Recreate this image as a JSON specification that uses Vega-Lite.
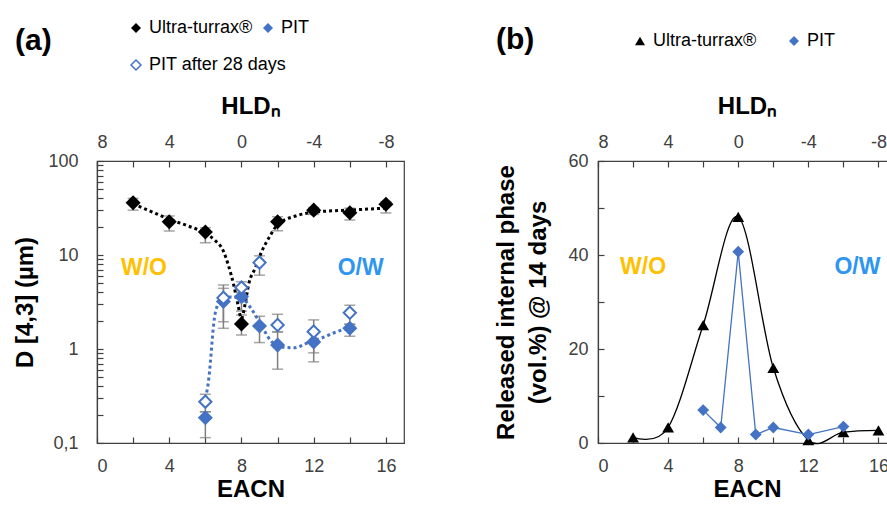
{
  "$schema": "https://vega.github.io/schema/vega-lite/v6.json",
  "background": "white",
  "padding": {"left": 13, "top": 18, "right": 0, "bottom": 0},
  "spacing": 194,
  "bounds": "flush",
  "resolve": {
    "scale": {"color": "independent", "fill": "independent", "stroke": "independent", "shape": "independent"},
    "legend": {"color": "independent", "fill": "independent", "stroke": "independent", "shape": "independent"}
  },
  "config": {
    "font": "Liberation Sans",
    "view": {"stroke": "#404040", "strokeWidth": 1.2},
    "axis": {"grid": false, "domainColor": "#404040", "domainWidth": 1.2, "tickColor": "#404040", "tickWidth": 1.2, "labelColor": "#404040", "labelFontSize": 18, "titleFontSize": 24, "titleFontWeight": "bold", "titleColor": "#000", "tickSize": -6},
    "legend": {"labelFontSize": 18, "labelColor": "#000", "symbolSize": 100, "title": null},
    "title": {"color": "#000"}
  },
  "datasets": {
    "a_pts": [
      {"eacn": 2, "d": 36, "lo": 30, "hi": 40, "series": "Ultra-turrax®"},
      {"eacn": 4, "d": 22.6, "lo": 18, "hi": 26, "series": "Ultra-turrax®"},
      {"eacn": 6, "d": 17.6, "lo": 13.5, "hi": 19.5, "series": "Ultra-turrax®"},
      {"eacn": 8, "d": 1.85, "lo": 1.41, "hi": 2.3, "series": "Ultra-turrax®"},
      {"eacn": 10, "d": 22.6, "lo": 18.1, "hi": 25.5, "series": "Ultra-turrax®"},
      {"eacn": 12, "d": 30, "lo": 27, "hi": 32, "series": "Ultra-turrax®"},
      {"eacn": 14, "d": 28.2, "lo": 23.5, "hi": 31.5, "series": "Ultra-turrax®"},
      {"eacn": 16, "d": 34.6, "lo": 28, "hi": 37, "series": "Ultra-turrax®"},
      {"eacn": 6, "d": 0.186, "lo": 0.114, "hi": 0.215, "series": "PIT"},
      {"eacn": 7, "d": 3.2, "lo": 1.66, "hi": 4.42, "series": "PIT"},
      {"eacn": 8, "d": 3.6, "lo": 2.53, "hi": 3.97, "series": "PIT"},
      {"eacn": 9, "d": 1.76, "lo": 1.17, "hi": 2.23, "series": "PIT"},
      {"eacn": 10, "d": 1.1, "lo": 0.61, "hi": 1.52, "series": "PIT"},
      {"eacn": 12, "d": 1.19, "lo": 0.73, "hi": 1.6, "series": "PIT"},
      {"eacn": 14, "d": 1.66, "lo": 1.37, "hi": 1.83, "series": "PIT"},
      {"eacn": 6, "d": 0.275, "lo": 0.215, "hi": 0.33, "series": "PIT after 28 days"},
      {"eacn": 7, "d": 3.5, "lo": 1.95, "hi": 4.8, "series": "PIT after 28 days"},
      {"eacn": 8, "d": 4.5, "lo": 3.18, "hi": 5.2, "series": "PIT after 28 days"},
      {"eacn": 9, "d": 8.3, "lo": 6.1, "hi": 9.8, "series": "PIT after 28 days"},
      {"eacn": 10, "d": 1.8, "lo": 1.52, "hi": 2.34, "series": "PIT after 28 days"},
      {"eacn": 12, "d": 1.53, "lo": 0.91, "hi": 2.04, "series": "PIT after 28 days"},
      {"eacn": 14, "d": 2.43, "lo": 1.83, "hi": 2.92, "series": "PIT after 28 days"}
    ],
    "a_fit": [
      {"eacn": 2, "d": 35, "series": "U"},
      {"eacn": 3, "d": 29, "series": "U"},
      {"eacn": 4, "d": 24, "series": "U"},
      {"eacn": 5, "d": 20.5, "series": "U"},
      {"eacn": 6, "d": 17, "series": "U"},
      {"eacn": 6.5, "d": 14.5, "series": "U"},
      {"eacn": 7, "d": 11, "series": "U"},
      {"eacn": 7.3, "d": 7.5, "series": "U"},
      {"eacn": 7.56, "d": 4.9, "series": "U"},
      {"eacn": 7.8, "d": 3, "series": "U"},
      {"eacn": 8, "d": 2.1, "series": "U"},
      {"eacn": 8.2, "d": 3, "series": "U"},
      {"eacn": 8.4, "d": 4.9, "series": "U"},
      {"eacn": 8.77, "d": 7.3, "series": "U"},
      {"eacn": 9.13, "d": 11, "series": "U"},
      {"eacn": 9.5, "d": 15, "series": "U"},
      {"eacn": 10, "d": 21, "series": "U"},
      {"eacn": 11, "d": 26, "series": "U"},
      {"eacn": 12, "d": 28.5, "series": "U"},
      {"eacn": 13, "d": 29.5, "series": "U"},
      {"eacn": 14, "d": 30, "series": "U"},
      {"eacn": 15, "d": 30.8, "series": "U"},
      {"eacn": 16, "d": 31.5, "series": "U"},
      {"eacn": 6, "d": 0.3, "series": "P"},
      {"eacn": 6.2, "d": 0.5, "series": "P"},
      {"eacn": 6.33, "d": 0.95, "series": "P"},
      {"eacn": 6.44, "d": 1.69, "series": "P"},
      {"eacn": 6.57, "d": 2.53, "series": "P"},
      {"eacn": 6.85, "d": 3.24, "series": "P"},
      {"eacn": 7.4, "d": 3.57, "series": "P"},
      {"eacn": 8, "d": 3.5, "series": "P"},
      {"eacn": 8.5, "d": 2.75, "series": "P"},
      {"eacn": 9.07, "d": 1.83, "series": "P"},
      {"eacn": 9.63, "d": 1.22, "series": "P"},
      {"eacn": 10.2, "d": 1.05, "series": "P"},
      {"eacn": 10.9, "d": 1.03, "series": "P"},
      {"eacn": 11.7, "d": 1.17, "series": "P"},
      {"eacn": 12.4, "d": 1.3, "series": "P"},
      {"eacn": 13.1, "d": 1.48, "series": "P"},
      {"eacn": 14, "d": 1.7, "series": "P"}
    ],
    "a_txt": [
      {"eacn": 2.6, "d": 7.3, "label": "W/O"},
      {"eacn": 14.6, "d": 7.3, "label": "O/W"}
    ],
    "b_pts": [
      {"eacn": 2, "v": 1.2, "series": "Ultra-turrax®"},
      {"eacn": 4, "v": 3.3, "series": "Ultra-turrax®"},
      {"eacn": 6, "v": 25.1, "series": "Ultra-turrax®"},
      {"eacn": 8, "v": 48.1, "series": "Ultra-turrax®"},
      {"eacn": 10, "v": 16, "series": "Ultra-turrax®"},
      {"eacn": 12, "v": 0.6, "series": "Ultra-turrax®"},
      {"eacn": 14, "v": 2.3, "series": "Ultra-turrax®"},
      {"eacn": 16, "v": 2.7, "series": "Ultra-turrax®"},
      {"eacn": 6, "v": 7, "series": "PIT"},
      {"eacn": 7, "v": 3.3, "series": "PIT"},
      {"eacn": 8, "v": 40.7, "series": "PIT"},
      {"eacn": 9, "v": 1.8, "series": "PIT"},
      {"eacn": 10, "v": 3.3, "series": "PIT"},
      {"eacn": 12, "v": 1.8, "series": "PIT"},
      {"eacn": 14, "v": 3.5, "series": "PIT"}
    ],
    "b_txt": [
      {"eacn": 2.57, "v": 37.4, "label": "W/O"},
      {"eacn": 14.8, "v": 37.4, "label": "O/W"}
    ]
  },
  "hconcat": [
    {
      "width": 307,
      "height": 282,
      "title": {"text": "(a)", "anchor": "start", "frame": "group", "fontSize": 30, "fontWeight": "bold", "dx": -82, "offset": 0, "dy": 37},
      "resolve": {"axis": {"x": "independent"}},
      "layer": [
        {
          "data": {"name": "a_pts"},
          "mark": {"type": "errorbar", "ticks": {"size": 11}, "color": "#7f7f7f", "thickness": 1.5},
          "encoding": {
            "x": {"field": "eacn", "type": "quantitative", "scale": {"domain": [0, 17], "nice": false},
              "axis": {"orient": "bottom", "values": [0, 2, 4, 6, 8, 10, 12, 14, 16], "labelExpr": "datum.value % 4 == 0 ? datum.label : ''", "title": "EACN", "labelPadding": 20, "titlePadding": 2}},
            "y": {"field": "lo", "type": "quantitative", "scale": {"type": "log", "domain": [0.1, 100], "nice": false},
              "axis": {"values": [0.1, 0.2, 0.3, 0.4, 0.5, 0.6, 0.7, 0.8, 0.9, 1, 2, 3, 4, 5, 6, 7, 8, 9, 10, 20, 30, 40, 50, 60, 70, 80, 90, 100],
                "labelExpr": "datum.value == 0.1 ? '0,1' : (datum.value == 1 || datum.value == 10 || datum.value == 100) ? '' + datum.value : ''",
                "title": "D [4,3] (µm)", "labelPadding": 25, "titlePadding": 10}},
            "y2": {"field": "hi"}
          }
        },
        {
          "data": {"name": "a_fit"},
          "transform": [{"filter": "datum.series == 'U'"}],
          "mark": {"type": "line", "interpolate": "monotone", "strokeDash": [3, 3], "strokeWidth": 3, "color": "#000"},
          "encoding": {
            "x": {"field": "eacn", "type": "quantitative", "axis": null},
            "y": {"field": "d", "type": "quantitative", "title": "D [4,3] (µm)"}
          }
        },
        {
          "data": {"name": "a_fit"},
          "transform": [{"filter": "datum.series == 'P'"}],
          "mark": {"type": "line", "interpolate": "monotone", "strokeDash": [3, 3], "strokeWidth": 3, "color": "#4472C4"},
          "encoding": {
            "x": {"field": "eacn", "type": "quantitative", "axis": null},
            "y": {"field": "d", "type": "quantitative", "title": "D [4,3] (µm)"}
          }
        },
        {
          "data": {"name": "a_pts"},
          "mark": {"type": "point", "shape": "diamond", "size": 150, "strokeWidth": 2, "opacity": 1},
          "encoding": {
            "x": {"field": "eacn", "type": "quantitative",
              "axis": {"orient": "top", "values": [0, 2, 4, 6, 8, 10, 12, 14, 16], "labelExpr": "datum.value % 4 == 0 ? '' + (8 - datum.value) : ''", "title": "HLDₙ", "labelPadding": 16, "titlePadding": 15}},
            "y": {"field": "d", "type": "quantitative", "title": "D [4,3] (µm)"},
            "fill": {"field": "series", "type": "nominal", "scale": {"domain": ["Ultra-turrax®", "PIT", "PIT after 28 days"], "range": ["#000000", "#4472C4", "#ffffff"]},
              "legend": {"orient": "none", "legendX": 30, "legendY": -142, "direction": "horizontal", "values": ["Ultra-turrax®", "PIT"], "columnPadding": 6, "symbolStrokeWidth": 0}},
            "stroke": {"field": "series", "type": "nominal", "scale": {"domain": ["PIT after 28 days", "Ultra-turrax®", "PIT"], "range": ["#4472C4", "#000000", "#4472C4"]},
              "legend": {"orient": "none", "legendX": 30, "legendY": -105, "direction": "horizontal", "values": ["PIT after 28 days"], "symbolStrokeWidth": 1.5, "symbolFillColor": "#ffffff"}}
          }
        },
        {
          "data": {"name": "a_txt"},
          "transform": [{"filter": "datum.label == 'W/O'"}],
          "mark": {"type": "text", "fontSize": 23, "fontWeight": "bold", "color": "#FFC000"},
          "encoding": {
            "x": {"field": "eacn", "type": "quantitative", "axis": null},
            "y": {"field": "d", "type": "quantitative", "title": "D [4,3] (µm)"},
            "text": {"field": "label"}
          }
        },
        {
          "data": {"name": "a_txt"},
          "transform": [{"filter": "datum.label == 'O/W'"}],
          "mark": {"type": "text", "fontSize": 23, "fontWeight": "bold", "color": "#2E95F0"},
          "encoding": {
            "x": {"field": "eacn", "type": "quantitative", "axis": null},
            "y": {"field": "d", "type": "quantitative", "title": "D [4,3] (µm)"},
            "text": {"field": "label"}
          }
        }
      ]
    },
    {
      "width": 298,
      "height": 282,
      "title": {"text": "(b)", "anchor": "start", "frame": "group", "fontSize": 30, "fontWeight": "bold", "dx": -102, "offset": 0, "dy": 23},
      "resolve": {"axis": {"x": "independent"}},
      "layer": [
        {
          "data": {"name": "b_pts"},
          "transform": [{"filter": "datum.series == 'Ultra-turrax®'"}],
          "mark": {"type": "line", "interpolate": "cardinal", "strokeWidth": 1.3, "color": "#000"},
          "encoding": {
            "x": {"field": "eacn", "type": "quantitative", "scale": {"domain": [0, 17], "nice": false},
              "axis": {"orient": "bottom", "values": [0, 2, 4, 6, 8, 10, 12, 14, 16], "labelExpr": "datum.value % 4 == 0 ? datum.label : ''", "title": "EACN", "labelPadding": 20, "titlePadding": 2}},
            "y": {"field": "v", "type": "quantitative", "scale": {"domain": [0, 60], "nice": false},
              "axis": {"values": [0, 5, 10, 15, 20, 25, 30, 35, 40, 45, 50, 55, 60], "labelExpr": "datum.value % 20 == 0 ? datum.label : ''",
                "title": ["Released internal phase", "(vol.%) @ 14 days"], "titleLineHeight": 32, "labelPadding": 16, "titlePadding": 17}}
          }
        },
        {
          "data": {"name": "b_pts"},
          "transform": [{"filter": "datum.series == 'PIT'"}],
          "mark": {"type": "line", "strokeWidth": 1.3, "color": "#4472C4"},
          "encoding": {
            "x": {"field": "eacn", "type": "quantitative", "axis": null},
            "y": {"field": "v", "type": "quantitative"}
          }
        },
        {
          "data": {"name": "b_pts"},
          "mark": {"type": "point", "filled": true, "size": 140, "opacity": 1},
          "encoding": {
            "x": {"field": "eacn", "type": "quantitative",
              "axis": {"orient": "top", "values": [0, 2, 4, 6, 8, 10, 12, 14, 16], "labelExpr": "datum.value % 4 == 0 ? '' + (8 - datum.value) : ''", "title": "HLDₙ", "labelPadding": 16, "titlePadding": 15}},
            "y": {"field": "v", "type": "quantitative"},
            "color": {"field": "series", "type": "nominal", "scale": {"domain": ["Ultra-turrax®", "PIT"], "range": ["#000000", "#4472C4"]},
              "legend": {"orient": "none", "legendX": 33, "legendY": -129, "direction": "horizontal", "columnPadding": 28}},
            "shape": {"field": "series", "type": "nominal", "scale": {"domain": ["Ultra-turrax®", "PIT"], "range": ["triangle-up", "diamond"]},
              "legend": {"orient": "none", "legendX": 33, "legendY": -129, "direction": "horizontal", "columnPadding": 28}}
          }
        },
        {
          "data": {"name": "b_txt"},
          "transform": [{"filter": "datum.label == 'W/O'"}],
          "mark": {"type": "text", "fontSize": 23, "fontWeight": "bold", "color": "#FFC000"},
          "encoding": {
            "x": {"field": "eacn", "type": "quantitative", "axis": null},
            "y": {"field": "v", "type": "quantitative"},
            "text": {"field": "label"}
          }
        },
        {
          "data": {"name": "b_txt"},
          "transform": [{"filter": "datum.label == 'O/W'"}],
          "mark": {"type": "text", "fontSize": 23, "fontWeight": "bold", "color": "#2E95F0"},
          "encoding": {
            "x": {"field": "eacn", "type": "quantitative", "axis": null},
            "y": {"field": "v", "type": "quantitative"},
            "text": {"field": "label"}
          }
        }
      ]
    }
  ]
}
